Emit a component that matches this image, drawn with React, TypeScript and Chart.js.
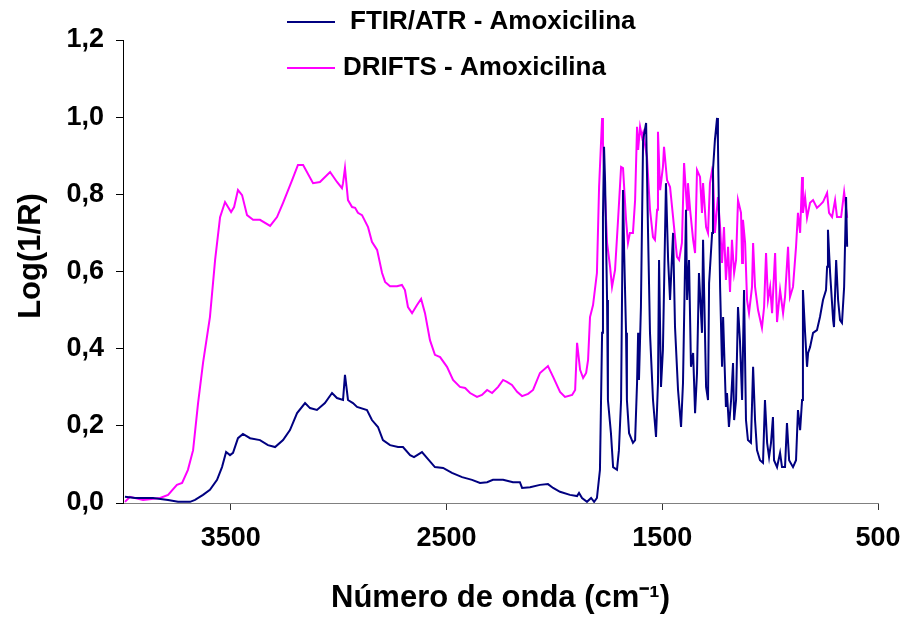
import React, { useEffect, useRef } from "react";
import { Chart, registerables } from "chart.js";

Chart.register(...registerables);

// ---------- data ----------
const seriesLabels = ["FTIR/ATR - Amoxicilina", "DRIFTS - Amoxicilina"];
const yAxisTitle = "Log(1/R)";
const xAxisTitle = "Número de onda (cm⁻¹)";
const xTickValues = [3500, 2500, 1500, 500];

const ftirWn = [
  3991, 3944, 3861, 3791, 3745, 3689, 3666, 3629, 3597, 3564, 3541, 3522, 3504, 3490, 3467, 3444, 3411, 3365, 3328, 3295,
  3258, 3226, 3193, 3156, 3133, 3101, 3064, 3031, 3008, 2980, 2971, 2957, 2934, 2915, 2869, 2846, 2818, 2795, 2762, 2725,
  2702, 2669, 2651, 2614, 2591, 2554, 2516, 2475, 2428, 2382, 2345, 2312, 2285, 2238, 2192, 2160, 2150, 2113, 2067, 2030,
  2006, 1974, 1928, 1895, 1886, 1872, 1849, 1830, 1816, 1803, 1789, 1779, 1775, 1770, 1765, 1756, 1752, 1738, 1728, 1710,
  1701, 1691, 1682, 1677, 1668, 1664, 1654, 1636, 1626, 1617, 1612, 1608, 1599, 1589, 1575, 1566, 1557, 1543, 1529, 1520,
  1515, 1506, 1497, 1483, 1473, 1464, 1450, 1441, 1427, 1413, 1404, 1390, 1385, 1376, 1367, 1357, 1348, 1339, 1330, 1316,
  1311, 1297, 1288, 1283, 1269, 1265, 1256, 1246, 1242, 1232, 1223, 1218, 1205, 1200, 1191, 1181, 1172, 1167, 1158, 1149,
  1140, 1130, 1121, 1112, 1103, 1089, 1079, 1070, 1061, 1047, 1033, 1024, 1014, 1005, 996, 987, 982, 968, 954, 945,
  931, 922, 912, 894, 880, 871, 861, 852, 848, 838, 829, 824, 815, 801, 783, 769, 755, 741, 736, 732,
  722, 708, 704, 694, 685, 676, 667, 657, 648, 643,
];
const ftirVal = [
  0.016, 0.013, 0.013, 0.008, 0.003, 0.003, 0.008, 0.021, 0.034, 0.06, 0.093, 0.132, 0.124, 0.13, 0.168, 0.179, 0.168, 0.163, 0.15, 0.145,
  0.163, 0.189, 0.233, 0.259, 0.246, 0.241, 0.259, 0.285, 0.272, 0.267, 0.332, 0.267, 0.259, 0.249, 0.241, 0.215, 0.197, 0.163, 0.15, 0.145,
  0.145, 0.124, 0.119, 0.132, 0.117, 0.093, 0.091, 0.078, 0.067, 0.06, 0.052, 0.054, 0.06, 0.06, 0.054, 0.054, 0.039, 0.041, 0.047, 0.049,
  0.039, 0.029, 0.021, 0.018, 0.026, 0.013, 0.003, 0.013, 0.003, 0.013, 0.086, 0.441, 0.741, 0.923, 0.829, 0.526, 0.267, 0.181, 0.093, 0.086,
  0.137, 0.267, 0.811, 0.656, 0.441, 0.267, 0.181, 0.156, 0.163, 0.311, 0.441, 0.319, 0.508, 0.941, 0.985, 0.7, 0.441, 0.267, 0.171, 0.311,
  0.63, 0.301, 0.397, 0.829, 0.63, 0.526, 0.7, 0.456, 0.293, 0.197, 0.311, 0.76, 0.526, 0.63, 0.353, 0.389, 0.233, 0.337, 0.596, 0.441,
  0.682, 0.301, 0.267, 0.57, 0.7, 0.863, 0.941, 0.998, 0.933, 0.56, 0.353, 0.482, 0.249, 0.285, 0.197, 0.267, 0.363, 0.215, 0.267, 0.508,
  0.422, 0.267, 0.552, 0.215, 0.163, 0.156, 0.353, 0.215, 0.137, 0.111, 0.104, 0.267, 0.156, 0.119, 0.156, 0.223, 0.111, 0.093, 0.13, 0.093,
  0.093, 0.207, 0.111, 0.093, 0.111, 0.241, 0.189, 0.267, 0.552, 0.441, 0.353, 0.389, 0.404, 0.441, 0.448, 0.482, 0.526, 0.552, 0.612, 0.708,
  0.596, 0.474, 0.456, 0.63, 0.526, 0.474, 0.467, 0.56, 0.793, 0.664,
];

const driftsWn = [
  3991, 3968, 3907, 3828, 3791, 3750, 3726, 3699, 3675, 3652, 3629, 3597, 3573, 3550, 3527, 3499, 3485, 3467, 3448, 3425,
  3397, 3365, 3318, 3286, 3258, 3216, 3189, 3165, 3119, 3087, 3040, 3008, 2985, 2980, 2971, 2957, 2938, 2924, 2911, 2892,
  2864, 2846, 2822, 2799, 2785, 2762, 2730, 2707, 2693, 2679, 2660, 2637, 2618, 2600, 2577, 2554, 2530, 2498, 2470, 2438,
  2414, 2391, 2359, 2336, 2312, 2289, 2261, 2238, 2220, 2197, 2173, 2150, 2122, 2099, 2067, 2030, 2006, 1974, 1951, 1918,
  1904, 1895, 1881, 1867, 1853, 1844, 1835, 1821, 1803, 1793, 1779, 1775, 1765, 1756, 1742, 1733, 1719, 1705, 1691, 1682,
  1668, 1659, 1650, 1636, 1626, 1617, 1612, 1603, 1594, 1589, 1571, 1557, 1543, 1534, 1524, 1520, 1510, 1497, 1492, 1478,
  1464, 1450, 1432, 1422, 1409, 1399, 1385, 1381, 1371, 1357, 1348, 1339, 1325, 1316, 1311, 1297, 1288, 1279, 1269, 1265,
  1256, 1242, 1232, 1223, 1214, 1205, 1195, 1186, 1177, 1167, 1158, 1149, 1135, 1130, 1126, 1116, 1107, 1098, 1084, 1079,
  1070, 1056, 1038, 1028, 1019, 1010, 1000, 991, 977, 968, 954, 940, 931, 917, 908, 894, 880, 871, 861, 852,
  848, 838, 829, 815, 801, 783, 769, 755, 736, 727, 713, 699, 690, 671, 657, 643,
];
const driftsVal = [
  0.003, 0.016, 0.008, 0.013, 0.021, 0.047, 0.052, 0.086, 0.137, 0.259, 0.363, 0.482, 0.63, 0.741, 0.78, 0.754, 0.767, 0.811, 0.798, 0.746,
  0.734, 0.734, 0.718, 0.741, 0.778, 0.837, 0.876, 0.876, 0.829, 0.832, 0.858, 0.832, 0.816, 0.829, 0.868, 0.785, 0.767, 0.765, 0.752, 0.746,
  0.715, 0.677, 0.656, 0.596, 0.573, 0.562, 0.562, 0.565, 0.552, 0.508, 0.492, 0.513, 0.529, 0.492, 0.422, 0.384, 0.378, 0.353, 0.319, 0.301,
  0.298, 0.285, 0.275, 0.28, 0.293, 0.285, 0.301, 0.319, 0.314, 0.306, 0.288, 0.277, 0.283, 0.293, 0.337, 0.355, 0.327, 0.288, 0.275, 0.28,
  0.293, 0.415, 0.345, 0.324, 0.337, 0.371, 0.482, 0.513, 0.596, 0.819, 0.998, 0.933, 0.793, 0.674, 0.612, 0.56, 0.604, 0.734, 0.871, 0.868,
  0.734, 0.674, 0.7, 0.7, 0.785, 0.975, 0.915, 0.975, 0.949, 0.959, 0.897, 0.76, 0.689, 0.682, 0.76, 0.962, 0.811, 0.871, 0.923, 0.837,
  0.819, 0.741, 0.638, 0.63, 0.674, 0.881, 0.76, 0.829, 0.76, 0.682, 0.648, 0.863, 0.845, 0.752, 0.829, 0.715, 0.7, 0.829, 0.863, 0.855,
  0.7, 0.793, 0.715, 0.622, 0.715, 0.578, 0.664, 0.547, 0.682, 0.596, 0.63, 0.785, 0.752, 0.622, 0.734, 0.674, 0.526, 0.492, 0.56, 0.674,
  0.56, 0.5, 0.454, 0.508, 0.648, 0.526, 0.56, 0.492, 0.648, 0.469, 0.552, 0.492, 0.534, 0.664, 0.534, 0.56, 0.664, 0.752, 0.7, 0.845,
  0.752, 0.793, 0.739, 0.778, 0.785, 0.765, 0.772, 0.78, 0.804, 0.752, 0.741, 0.785, 0.741, 0.741, 0.806, 0.739,
];

const seriesColors = ["#000080", "#FF00FF"];

const FONT = "'Liberation Sans', Arial, sans-serif";

const toPoints = (xs: number[], ys: number[]) => xs.map((x, i) => ({ x, y: ys[i] }));

const manualLegend = {
  id: "manualLegend",
  afterDraw(chart: any) {
    const ctx = chart.ctx;
    const rows = [
      { y: 22, lineX0: 287, lineX1: 335, textX: 350 },
      { y: 68, lineX0: 287, lineX1: 335, textX: 343 },
    ];
    ctx.save();
    chart.data.datasets.forEach((ds: any, i: number) => {
      const r = rows[i];
      ctx.strokeStyle = ds.borderColor;
      ctx.lineWidth = 2;
      ctx.beginPath();
      ctx.moveTo(r.lineX0, r.y);
      ctx.lineTo(r.lineX1, r.y);
      ctx.stroke();
      ctx.fillStyle = "#000";
      ctx.font = `bold 26px ${FONT}`;
      ctx.textBaseline = "middle";
      ctx.textAlign = "left";
      ctx.fillText(ds.label, r.textX, r.y);
    });
    // y-axis title
    ctx.translate(31, 256);
    ctx.rotate(-Math.PI / 2);
    ctx.fillStyle = "#000";
    ctx.font = `bold 31px ${FONT}`;
    ctx.textAlign = "center";
    ctx.textBaseline = "middle";
    ctx.fillText(yAxisTitle, 0, 0);
    ctx.restore();
  },
};

export default function App() {
  const ref = useRef<HTMLCanvasElement | null>(null);

  useEffect(() => {
    if (!ref.current) return;
    const chart = new Chart(ref.current, {
      type: "line",
      data: {
        datasets: [
          {
            label: seriesLabels[0],
            data: toPoints(ftirWn, ftirVal),
            borderColor: seriesColors[0],
            backgroundColor: seriesColors[0],
            borderWidth: 2,
            pointRadius: 0,
            tension: 0,
            fill: false,
          },
          {
            label: seriesLabels[1],
            data: toPoints(driftsWn, driftsVal),
            borderColor: seriesColors[1],
            backgroundColor: seriesColors[1],
            borderWidth: 2,
            pointRadius: 0,
            tension: 0,
            fill: false,
          },
        ],
      },
      options: {
        animation: false,
        responsive: true,
        maintainAspectRatio: false,
        layout: { padding: { top: 40, right: 26, left: 0, bottom: 0 } },
        plugins: {
          legend: { display: false },
          tooltip: { enabled: false },
        },
        scales: {
          x: {
            type: "linear",
            reverse: true,
            min: 500,
            max: 4000,
            afterFit: (s: any) => {
              s.height = 114;
              s.paddingLeft = 0;
              s.paddingRight = 0;
            },
            afterBuildTicks: (s: any) => {
              s.ticks = xTickValues.map((v) => ({ value: v }));
            },
            grid: {
              display: true,
              drawOnChartArea: false,
              drawTicks: true,
              tickLength: 7,
              color: "#333333",
            },
            border: { display: true, color: "#808080", width: 1 },
            ticks: {
              padding: 12,
              color: "#000",
              font: { family: FONT, size: 27, weight: "bold" },
              maxRotation: 0,
              autoSkip: false,
              callback: (v: any) => String(v),
            },
            title: {
              display: true,
              text: xAxisTitle,
              color: "#000",
              font: { family: FONT, size: 31, weight: "bold" },
              padding: { top: 0, bottom: 0 },
            },
          },
          y: {
            type: "linear",
            min: 0,
            max: 1.2,
            afterFit: (s: any) => {
              s.width = 123;
              s.paddingTop = 0;
              s.paddingBottom = 0;
            },
            grid: {
              display: true,
              drawOnChartArea: false,
              drawTicks: true,
              tickLength: 7,
              color: "#000",
            },
            border: { display: true, color: "#000", width: 1 },
            ticks: {
              stepSize: 0.2,
              padding: 12,
              color: "#000",
              font: { family: FONT, size: 27, weight: "bold" },
              callback: (v: any) => Number(v).toFixed(1).replace(".", ","),
            },
            title: { display: false },
          },
        },
      },
      plugins: [manualLegend],
    });
    return () => chart.destroy();
  }, []);

  return (
    <div style={{ position: "fixed", left: 0, top: 0, width: 904, height: 617, background: "#fff" }}>
      <canvas ref={ref} />
    </div>
  );
}
